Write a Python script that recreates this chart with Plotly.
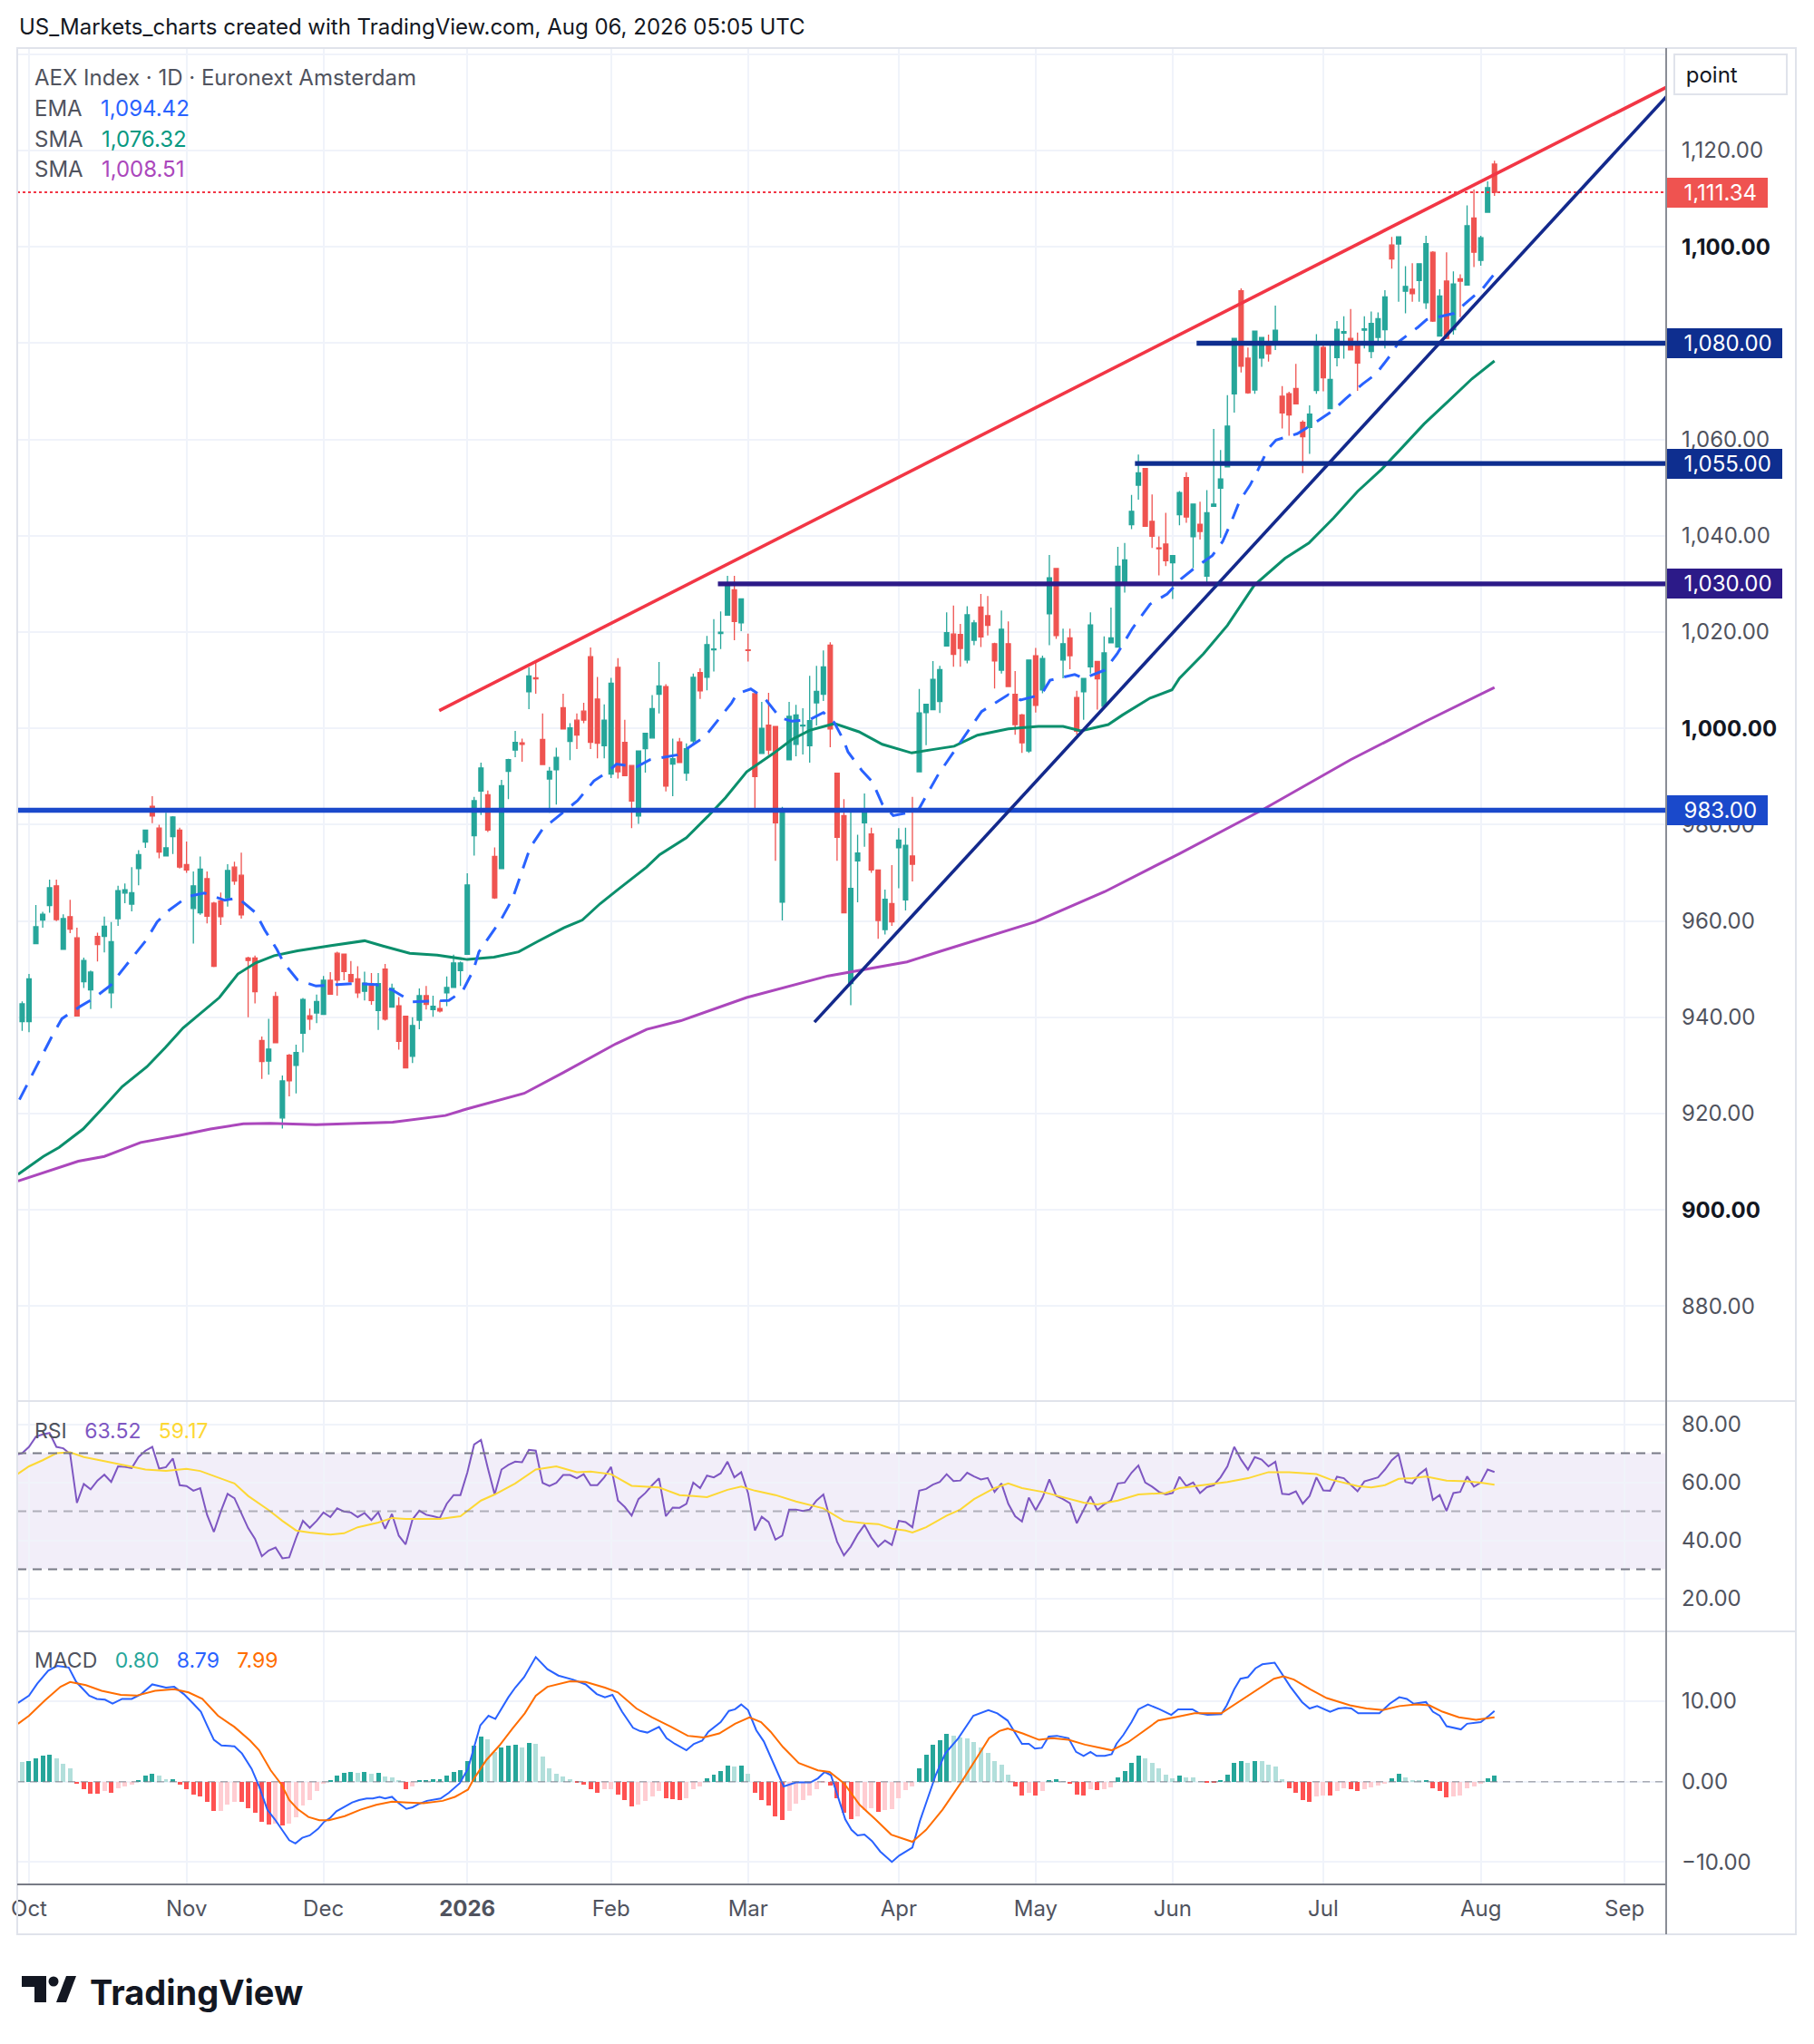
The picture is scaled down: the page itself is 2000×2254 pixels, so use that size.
import numpy as np
import pandas as pd
import plotly.graph_objects as go
from plotly.subplots import make_subplots

# Euronext calendar; session 0 = 1 Oct 2025
HOLIDAYS = ["2025-12-25", "2025-12-26", "2026-01-01", "2026-04-03", "2026-04-06", "2026-05-01"]
MONTH_LABELS = ["Oct", "Nov", "Dec", "<b>2026</b>", "Feb", "Mar", "Apr", "May", "Jun", "Jul", "Aug", "Sep"]
BAR_START = "2025-09-30"

# AEX daily candles, 30 Sep 2025 .. 5 Aug 2026 (one row per month)
OPEN = [
    939.1,
    939.1, 955.3, 960.2, 963.2, 967.3, 954.1, 960.9, 956.5, 947.4, 945.7, 956.8, 956.8, 945.1, 960.5, 965.8, 963.5, 970.9, 976.4, 983.8, 979.3, 973.5, 977.5, 978.9,
    971.7, 962.6, 961.7, 968.8, 963.7, 964.2, 964.8, 971.2, 969.5, 952.3, 952.3, 935.2, 930.9, 944.3, 919.1, 932.1, 930.0, 936.7, 940.3, 940.9,
    940.6, 947.7, 953.3, 953.1, 948.9, 948.0, 945.4, 947.0, 941.4, 950.0, 942.1, 942.4, 940.2, 931.9, 939.4, 944.5, 941.6, 941.8, 945.1, 946.2, 949.7,
    953.1, 977.7, 987.0, 986.2, 973.4, 970.9, 991.1, 995.5, 997.0, 1007.6, 1010.5, 997.7, 989.5, 991.4, 1004.3, 997.3, 1001.7, 1003.6, 1014.9, 1006.1, 996.4,
    990.5, 1012.7, 997.1, 992.3, 981.8, 995.8, 998.0, 1007.1, 1008.7, 992.6, 997.2, 990.7, 997.4, 1011.6, 1010.6, 1016.3, 1019.7, 1023.5, 1028.8, 1021.9,
    1016.3, 1007.2, 994.8, 1000.7, 1000.4, 963.9, 993.5, 996.7, 1000.5, 996.4, 1005.3, 1007.1, 1017.3, 990.7, 981.9, 947.0, 972.5, 980.4, 978.1, 970.6, 958.2, 963.6,
    975.2, 964.4, 973.5, 991.0, 1003.3, 1003.9, 1005.6, 1017.1, 1019.6, 1019.5, 1014.2, 1018.3, 1025.2, 1023.4, 1017.6, 1012.1, 1017.6, 1007.1, 1002.8, 995.3,
    1015.1, 1008.0, 1023.8, 1033.2, 1014.2, 1018.8, 1006.4, 1007.6, 1012.8, 1013.9, 1004.6, 1017.8, 1016.9, 1029.8, 1042.3, 1050.5, 1054.0, 1043.0, 1037.5, 1038.3,
    1034.4, 1044.4, 1052.1, 1039.8, 1042.4, 1031.6, 1046.1, 1049.9, 1054.3, 1069.5, 1090.9, 1076.9, 1070.3, 1076.9, 1079.4, 1080.1, 1069.0, 1069.5, 1070.6, 1063.6, 1062.5, 1070.2,
    1079.1, 1066.4, 1077.0, 1082.1, 1081.0, 1080.3, 1082.7, 1078.3, 1081.2, 1082.8, 1100.4, 1100.6, 1090.8, 1091.2, 1093.0, 1088.4, 1098.9, 1081.5, 1092.9, 1082.8, 1093.4, 1092.1, 1106.0,
    1097.2, 1107.2, 1117.2,
]
HIGH = [
    943.3,
    949.0, 963.3, 961.9, 968.6, 968.6, 961.4, 964.4, 958.6, 952.4, 949.7, 957.6, 960.9, 959.8, 967.3, 967.8, 971.2, 974.7, 978.9, 985.9, 980.0, 982.5, 981.8, 979.4,
    976.5, 970.3, 973.4, 970.3, 964.0, 965.9, 971.8, 972.3, 974.2, 952.6, 952.8, 936.0, 939.7, 945.3, 927.9, 932.4, 934.3, 944.0, 941.8, 944.7,
    948.6, 949.4, 953.6, 953.1, 951.7, 950.6, 949.5, 949.2, 949.2, 951.1, 947.0, 944.2, 940.2, 940.0, 946.0, 946.5, 944.5, 943.5, 948.5, 953.0, 951.6,
    969.9, 985.8, 992.9, 987.1, 975.3, 989.3, 993.7, 999.5, 997.9, 1012.7, 1013.8, 1003.1, 992.0, 996.0, 1007.2, 1001.1, 1003.1, 1005.3, 1016.8, 1010.7, 1005.0,
    1010.5, 1014.6, 1001.8, 992.3, 995.3, 999.0, 1006.9, 1013.8, 1009.2, 997.9, 998.0, 996.9, 1011.4, 1012.5, 1019.2, 1022.7, 1024.3, 1031.7, 1031.7, 1026.9,
    1019.7, 1007.2, 1005.5, 1007.4, 1000.4, 983.7, 1005.5, 1004.9, 1004.2, 1010.9, 1013.0, 1016.2, 1017.9, 990.7, 985.3, 982.7, 977.9, 986.5, 979.4, 970.6, 966.5, 971.6,
    979.3, 979.4, 985.8, 1008.2, 1005.0, 1014.0, 1013.0, 1024.1, 1025.5, 1021.7, 1025.4, 1022.5, 1027.9, 1027.5, 1017.8, 1024.5, 1022.2, 1011.9, 1003.0, 1014.3,
    1016.7, 1015.1, 1036.0, 1033.2, 1020.7, 1020.7, 1007.8, 1010.4, 1024.1, 1013.9, 1019.1, 1025.1, 1037.7, 1038.5, 1048.5, 1056.9, 1054.0, 1048.6, 1039.9, 1044.8,
    1035.9, 1049.3, 1053.2, 1046.6, 1047.1, 1049.5, 1062.2, 1057.8, 1069.2, 1081.0, 1091.4, 1079.1, 1082.5, 1081.2, 1081.8, 1087.8, 1071.1, 1069.9, 1075.7, 1064.0, 1067.1, 1081.9,
    1080.1, 1080.3, 1084.6, 1085.6, 1087.1, 1082.2, 1085.6, 1086.6, 1086.4, 1091.0, 1102.1, 1102.1, 1096.0, 1096.6, 1096.6, 1102.3, 1099.1, 1091.2, 1098.9, 1094.9, 1094.3, 1108.6, 1111.9,
    1102.3, 1113.6, 1117.9,
]
LOW = [
    937.2,
    936.9, 955.3, 958.6, 961.7, 960.0, 954.1, 957.5, 940.2, 946.1, 941.7, 951.6, 953.5, 941.9, 959.0, 963.7, 962.0, 967.4, 975.2, 980.3, 973.0, 973.5, 973.9, 970.9,
    970.0, 955.3, 961.3, 959.5, 950.4, 959.2, 963.0, 967.5, 960.5, 940.0, 942.9, 927.2, 928.1, 934.7, 916.9, 923.6, 924.2, 932.7, 937.4, 938.8,
    940.6, 944.8, 944.5, 947.7, 947.3, 944.0, 943.5, 942.6, 937.4, 939.3, 942.1, 933.3, 929.5, 930.5, 937.5, 941.6, 940.1, 941.0, 942.3, 946.2, 946.5,
    953.1, 973.6, 982.0, 978.5, 964.6, 970.9, 985.3, 994.0, 993.1, 1004.0, 1007.2, 992.5, 982.5, 984.2, 999.9, 993.4, 995.7, 1001.1, 995.7, 993.8, 993.8,
    989.7, 989.6, 990.2, 979.3, 980.2, 990.8, 998.0, 1003.1, 986.9, 985.9, 992.9, 989.1, 996.7, 1006.1, 1007.9, 1011.8, 1016.5, 1023.5, 1018.3, 1020.2,
    1013.9, 983.3, 994.8, 994.5, 972.5, 960.1, 993.4, 994.2, 994.6, 992.9, 1000.6, 1005.7, 996.1, 972.5, 961.7, 942.5, 963.9, 975.4, 970.0, 956.3, 957.2, 959.0,
    966.8, 962.2, 968.2, 991.0, 996.5, 1003.9, 1003.2, 1017.1, 1012.8, 1012.8, 1013.5, 1017.3, 1016.9, 1019.3, 1008.3, 1011.4, 1008.7, 998.7, 994.9, 994.9,
    1003.3, 1007.3, 1017.3, 1018.6, 1010.4, 1012.3, 998.7, 1001.8, 1011.4, 1003.9, 1004.2, 1017.8, 1016.9, 1028.2, 1041.4, 1047.5, 1042.0, 1037.5, 1031.8, 1033.7,
    1026.9, 1042.2, 1042.7, 1033.3, 1039.2, 1029.7, 1046.1, 1039.6, 1054.3, 1065.6, 1073.9, 1069.5, 1069.5, 1075.1, 1076.2, 1078.6, 1062.3, 1060.8, 1067.4, 1053.0, 1057.0, 1069.5,
    1070.0, 1066.4, 1075.2, 1076.8, 1078.6, 1070.1, 1078.9, 1076.9, 1079.8, 1078.9, 1095.5, 1088.6, 1086.2, 1088.6, 1088.6, 1087.1, 1084.4, 1081.5, 1081.0, 1081.8, 1085.4, 1092.1, 1095.8,
    1096.1, 1107.2, 1110.6,
]
CLOSE = [
    942.8,
    948.0, 958.8, 961.4, 966.9, 960.3, 960.5, 958.3, 940.3, 951.8, 949.4, 955.1, 958.9, 955.7, 966.3, 966.5, 965.9, 973.8, 978.9, 981.8, 974.3, 975.2, 981.6, 971.2,
    970.6, 967.3, 970.8, 961.0, 950.6, 960.9, 970.5, 968.3, 961.3, 951.8, 945.3, 930.8, 933.4, 934.7, 926.8, 926.8, 932.7, 943.7, 939.6, 943.3,
    947.7, 944.8, 947.7, 949.5, 947.4, 945.1, 947.1, 943.5, 947.0, 939.6, 946.0, 935.0, 929.5, 938.3, 944.5, 942.7, 942.3, 941.3, 946.2, 951.3, 951.3,
    967.5, 985.0, 991.8, 978.9, 964.8, 988.1, 993.5, 997.1, 996.7, 1010.9, 1010.3, 992.5, 991.1, 994.0, 999.9, 1000.1, 998.6, 1001.7, 997.1, 996.9, 1001.7,
    1009.4, 991.0, 990.2, 984.9, 995.3, 999.0, 1004.1, 1008.8, 988.0, 993.7, 992.9, 995.8, 1010.6, 1007.8, 1017.4, 1016.5, 1020.0, 1030.0, 1022.2, 1026.9,
    1016.2, 990.0, 1000.0, 995.5, 980.4, 983.0, 1002.5, 1002.8, 1000.7, 1001.6, 1007.7, 1012.8, 999.9, 977.4, 961.7, 966.8, 974.1, 983.2, 970.6, 960.1, 964.5, 959.8,
    976.8, 975.7, 971.8, 1003.2, 1005.0, 1010.2, 1012.2, 1019.9, 1015.4, 1016.6, 1023.6, 1021.9, 1019.0, 1021.4, 1014.0, 1020.6, 1008.7, 1000.8, 997.0, 1014.2,
    1004.8, 1014.5, 1031.3, 1019.3, 1017.6, 1015.1, 999.4, 1010.4, 1021.5, 1010.3, 1015.7, 1018.8, 1033.7, 1035.0, 1045.1, 1053.1, 1042.0, 1039.9, 1037.3, 1034.8,
    1035.9, 1049.0, 1043.9, 1046.6, 1040.9, 1044.8, 1046.6, 1051.8, 1062.8, 1081.0, 1075.2, 1069.7, 1082.5, 1081.2, 1077.8, 1082.7, 1065.5, 1065.1, 1067.4, 1060.6, 1065.3, 1080.1,
    1072.8, 1072.5, 1082.9, 1082.4, 1078.6, 1075.9, 1083.0, 1084.1, 1085.1, 1089.6, 1097.5, 1102.1, 1091.8, 1090.3, 1096.5, 1100.7, 1084.6, 1089.8, 1081.0, 1092.3, 1092.9, 1104.4, 1098.9,
    1101.9, 1112.3, 1111.34,
]

# moving averages: (session, value)
EMA_PTS = [
    (-1.4, 922.9), (0.8, 929.0), (3.4, 936.2), (4.8, 939.7), (7.4, 942.2), (9.3, 943.8), (11.9, 946.6), (13.4, 949.4),
    (15.4, 952.9), (17.1, 956.0), (18.7, 959.8), (20.5, 962.3), (23.2, 965.1), (25.6, 965.8), (28.6, 964.3), (30.5, 964.8),
    (33.1, 961.7), (34.4, 958.2), (36.2, 954.1), (37.2, 951.3), (39.2, 947.8), (41.9, 946.5), (45.0, 946.8), (47.2, 947.0),
    (50.7, 946.8), (53.0, 945.7), (56.0, 943.2), (58.3, 943.3), (61.3, 943.5), (63.3, 945.4), (64.9, 949.8), (65.7, 953.6),
    (67.5, 957.2), (68.9, 960.2), (70.6, 964.6), (73.2, 975.3), (75.0, 979.1), (77.2, 981.6), (80.1, 985.0), (82.5, 989.1),
    (84.5, 991.0), (85.8, 992.6), (88.7, 992.0), (90.7, 993.5), (94.7, 994.5), (98.7, 998.3), (100.0, 1000.6), (102.6, 1005.3),
    (103.4, 1007.2), (105.4, 1008.2), (107.4, 1006.3), (109.7, 1002.2), (111.4, 1001.5), (114.0, 1001.8), (116.0, 1003.3),
    (117.6, 1001.2), (118.9, 997.7), (119.6, 995.1), (121.6, 991.3), (123.2, 988.8), (124.6, 984.3), (126.2, 981.9),
    (129.8, 982.9), (132.8, 990.5), (135.8, 996.7), (139.1, 1003.5), (143.0, 1007.0), (144.8, 1005.9), (147.8, 1007.0),
    (149.1, 1010.0), (152.7, 1011.2), (154.0, 1010.4), (157.1, 1012.1), (158.9, 1015.5), (161.1, 1020.7), (163.7, 1025.8),
    (166.2, 1027.9), (168.2, 1031.0), (170.2, 1033.3), (172.8, 1035.9), (174.3, 1038.8), (175.6, 1043.0), (176.8, 1047.3),
    (178.3, 1050.5), (179.5, 1053.8), (180.9, 1058.0), (182.1, 1059.9), (182.9, 1060.2), (185.2, 1061.2), (187.5, 1063.2),
    (190.5, 1066.1), (192.2, 1068.4), (194.8, 1071.6), (196.7, 1073.6), (198.8, 1077.5), (200.1, 1080.4), (202.8, 1083.3),
    (204.1, 1084.9), (205.4, 1085.3), (208.1, 1086.2), (209.7, 1088.2), (212.3, 1091.4), (214, 1094.42),
]
SMA50_PTS = [
    (-1.6, 907.4), (2.1, 911.1), (4.4, 913.0), (7.9, 916.8), (11.0, 921.5), (13.6, 925.6), (17.2, 929.7), (19.9, 933.7),
    (22.5, 937.8), (25.2, 941.0), (27.8, 944.1), (30.5, 949.0), (33.1, 951.3), (35.8, 952.8), (39.2, 953.8), (44.1, 954.9),
    (49.0, 955.9), (51.7, 954.8), (55.6, 953.3), (59.6, 952.9), (64.0, 952.0), (67.9, 952.5), (71.5, 953.6), (74.2, 955.7),
    (78.1, 958.6), (80.8, 960.2), (83.4, 963.6), (85.8, 966.3), (90.2, 971.2), (92.1, 973.8), (96.0, 977.3), (99.1, 981.7),
    (101.7, 985.6), (104.8, 991.0), (108.7, 994.8), (111.4, 997.7), (114.0, 999.6), (117.6, 1001.0), (121.2, 999.3),
    (124.6, 996.7), (128.9, 994.9), (131.9, 995.6), (135.1, 996.3), (138.5, 998.6), (143.0, 999.9), (147.4, 1000.4),
    (151.0, 1000.4), (153.6, 999.5), (157.6, 1000.8), (159.7, 1002.8), (163.7, 1006.3), (166.9, 1008.0), (168.0, 1010.4),
    (171.5, 1015.5), (175.0, 1021.4), (178.9, 1029.7), (183.4, 1035.3), (186.9, 1038.5), (190.5, 1043.7), (194.0, 1049.2),
    (197.5, 1053.8), (200.1, 1057.7), (203.7, 1063.2), (207.3, 1068.0), (210.7, 1072.6), (214, 1076.32),
]
SMA200_PTS = [
    (-1.6, 906.0), (7.2, 910.1), (11.0, 911.1), (16.3, 914.0), (22.0, 915.5), (26.5, 916.8), (31.3, 917.9), (35.2, 918.0),
    (41.9, 917.7), (53.1, 918.2), (60.8, 919.6), (64.0, 921.0), (72.3, 924.2), (78.0, 928.5), (85.7, 934.5), (90.2, 937.5),
    (95.2, 939.3), (104.8, 944.1), (116.7, 948.6), (128.2, 951.5), (133.3, 953.8), (146.9, 959.8), (157.1, 966.1),
    (168.0, 974.0), (180.0, 983.0), (193.0, 993.5), (204.0, 1001.5), (214, 1008.51),
]

# RSI(14), one value per session from 29 Sep 2025
RSI_START = "2025-09-29"
RSI = [
    69.5, 70.0,
    72.2, 75.7, 76.5, 77.0, 72.2, 71.7, 69.8, 52.9, 59.4, 57.6, 60.6, 62.6, 60.1, 65.5, 65.3, 64.9, 68.7, 70.9, 72.2, 64.7, 65.2, 68.2, 59.0,
    58.7, 57.1, 58.0, 48.8, 42.9, 49.9, 56.0, 54.5, 49.4, 44.2, 40.5, 34.5, 36.5, 37.5, 33.8, 34.1, 40.8, 46.7, 44.3, 46.7,
    49.6, 48.0, 51.0, 49.9, 49.6, 48.0, 49.4, 47.0, 49.7, 44.0, 49.1, 41.6, 38.6, 47.2, 50.2, 48.8, 48.3, 47.7, 52.6, 55.6, 55.6,
    63.3, 73.0, 74.6, 64.9, 55.8, 64.4, 66.0, 67.1, 66.9, 71.2, 70.9, 59.8, 58.7, 59.8, 62.5, 62.5, 61.4, 62.8, 59.0, 59.0, 61.7,
    65.3, 53.7, 51.5, 48.5, 54.2, 56.3, 59.0, 61.4, 48.3, 51.3, 51.2, 52.6, 59.9, 58.0, 62.3, 61.7, 63.1, 67.1, 61.7, 63.5,
    56.3, 43.4, 48.1, 46.3, 40.2, 41.6, 50.6, 50.6, 50.1, 50.6, 53.7, 55.8, 47.2, 39.5, 34.8, 37.8, 42.0, 45.3, 41.0, 37.8, 39.9, 38.4,
    46.7, 46.3, 44.5, 57.1, 57.7, 59.2, 60.1, 62.8, 60.4, 60.6, 63.3, 62.0, 61.0, 61.5, 56.7, 59.6, 52.6, 48.3, 46.5, 54.7,
    50.4, 54.7, 61.0, 55.3, 54.2, 52.8, 45.9, 50.6, 55.1, 50.4, 52.4, 53.7, 59.6, 59.9, 63.3, 65.8, 59.9, 58.5, 56.7, 55.8,
    56.3, 61.9, 58.7, 59.9, 56.3, 58.3, 59.0, 61.7, 65.5, 72.2, 67.8, 64.4, 68.7, 67.8, 65.5, 67.1, 56.0, 55.8, 56.9, 52.6, 55.3, 61.7,
    57.2, 57.1, 61.9, 61.4, 59.0, 56.9, 60.3, 60.9, 61.7, 64.4, 67.6, 69.6, 60.1, 59.6, 62.8, 64.6, 53.9, 55.6, 50.1, 56.3, 56.7, 62.0, 58.5,
    59.9, 64.4, 63.52,
]
RSI_MA_PTS = [
    (-2, 62.3), (0, 65.5), (2, 67.6), (4, 70.0), (6, 70.3), (8, 68.7), (11, 67.3), (15, 65.5), (17, 64.4), (20, 63.9),
    (23, 64.6), (25, 63.9), (28, 61.2), (30, 59.6), (32, 55.3), (35, 50.4), (37, 46.7), (39, 43.4), (41, 42.7), (44, 42.0),
    (46, 42.4), (48, 44.5), (51, 46.1), (53, 47.7), (55, 47.4), (58, 47.4), (60, 47.4), (63, 48.3), (66, 53.7), (68, 55.8),
    (71, 59.6), (74, 64.4), (77, 65.5), (80, 63.5), (82, 63.7), (85, 62.8), (88, 58.8), (92, 58.2), (95, 55.6), (99, 54.9),
    (102, 57.4), (104, 58.5), (106, 57.1), (109, 55.6), (112, 53.4), (116, 51.0), (119, 46.7), (122, 45.9), (124, 45.6),
    (126, 44.0), (128, 43.4), (129, 42.7), (131, 44.5), (134, 48.5), (136, 50.6), (138, 54.2), (141, 58.0), (143, 59.6),
    (145, 58.0), (148, 56.7), (151, 54.9), (154, 53.0), (156, 52.4), (159, 53.7), (162, 55.8), (166, 56.3), (168, 58.0),
    (172, 59.2), (175, 60.1), (178, 61.4), (181, 63.5), (184, 63.5), (187, 63.1), (188, 62.8), (190, 61.0), (192, 59.9),
    (194, 58.7), (196, 58.2), (198, 59.0), (200, 61.2), (202, 61.4), (204, 62.0), (207, 60.6), (210, 60.3), (212, 59.9), (214, 59.17),
]

# MACD(12,26,9)
MACD_PTS = [
    (-1.6, 9.8), (0, 10.7), (1.2, 12.2), (2.8, 13.8), (4.1, 14.4), (5.8, 14.2), (6.9, 12.4), (8.8, 10.7), (9.9, 10.3),
    (11.1, 10.2), (12.2, 9.7), (13.6, 10.3), (15.0, 10.3), (16.4, 10.9), (18.0, 12.1), (20.0, 11.7), (21.2, 11.8),
    (22.6, 10.9), (24.0, 9.7), (25.1, 8.7), (26.0, 7.0), (27.0, 5.2), (28.1, 4.5), (30.0, 4.4), (31.1, 3.5), (32.5, 1.6),
    (33.6, -0.6), (34.8, -3.5), (35.9, -4.7), (37.1, -6.2), (38.0, -7.3), (38.9, -7.7), (39.9, -7.0), (41.0, -6.7),
    (42.2, -5.9), (43.1, -5.0), (44.0, -4.5), (44.9, -3.7), (46.1, -3.1), (47.2, -2.6), (48.2, -2.3), (49.3, -2.1),
    (50.2, -2.1), (51.2, -1.9), (52.0, -2.1), (53.0, -1.9), (54.0, -2.7), (55.1, -3.4), (56.0, -3.2), (56.9, -2.8),
    (58.1, -2.4), (60.1, -2.1), (61.3, -1.4), (62.9, -0.2), (64.1, 1.6), (65.0, 4.3), (65.9, 7.0), (67.1, 8.2), (68.1, 7.8),
    (70.0, 10.5), (71.0, 11.7), (72.3, 13.0), (74.0, 15.5), (75.7, 14.0), (77.3, 13.2), (79.4, 12.7), (81.3, 12.1),
    (82.9, 10.9), (84.1, 10.5), (85.2, 10.8), (86.6, 8.7), (88.2, 6.7), (89.2, 6.3), (90.3, 6.1), (92.0, 6.8), (93.1, 5.4),
    (94.3, 4.7), (96.0, 3.9), (97.1, 4.7), (98.3, 5.1), (99.2, 6.2), (101.0, 7.4), (102.2, 8.8), (103.1, 9.0), (104.0, 9.6),
    (105.0, 8.9), (106.2, 6.4), (107.3, 5.0), (108.5, 2.7), (109.4, 1.0), (110.2, -0.6), (112.0, -0.1), (114.1, -0.1),
    (115.2, 0.4), (116.2, 1.2), (117.1, 0.8), (118.1, -1.9), (119.2, -4.7), (120.1, -6.0), (121.0, -6.7), (122.0, -6.6),
    (123.1, -7.4), (124.3, -8.7), (126.0, -10.0), (127.1, -9.2), (129.0, -8.2), (130.1, -4.9), (131.3, -1.9), (132.4, 0.8),
    (133.8, 3.5), (135.7, 5.4), (137.9, 8.2), (140.1, 8.9), (141.4, 8.5), (142.9, 7.6), (143.9, 6.2), (145.0, 4.7),
    (146.0, 4.7), (146.9, 4.1), (147.9, 4.2), (148.9, 5.6), (150.1, 5.7), (151.8, 5.4), (152.9, 3.7), (154.0, 3.2),
    (155.0, 3.7), (155.9, 3.2), (157.1, 3.2), (158.1, 3.4), (158.8, 4.7), (159.8, 5.8), (161.0, 7.4), (162.0, 9.0),
    (163.4, 9.6), (165.1, 9.0), (166.8, 8.3), (167.8, 9.0), (169.9, 9.0), (170.9, 8.5), (172.1, 8.3), (174.1, 8.4),
    (174.9, 9.5), (176.0, 11.5), (176.9, 12.8), (178.0, 13.0), (179.1, 14.1), (180.1, 14.6), (181.9, 14.8), (183.0, 13.4),
    (184.2, 11.8), (185.9, 9.9), (187.0, 9.1), (188.1, 9.4), (190.0, 8.7), (191.2, 9.1), (192.2, 9.2), (193.1, 9.1),
    (194.1, 8.5), (197.2, 8.5), (198.7, 9.7), (200.1, 10.5), (201.2, 10.3), (202.2, 9.7), (204.0, 9.9), (205.0, 8.7),
    (206.0, 8.2), (207.0, 6.9), (209.1, 6.5), (210.0, 7.2), (212.0, 7.4), (213.2, 8.2), (214, 8.79),
]
SIGNAL_PTS = [
    (-1.6, 7.2), (0, 8.2), (2.3, 10.1), (4.6, 11.8), (6.0, 12.4), (8.3, 12.0), (10.6, 11.3), (13.4, 10.8), (15.7, 10.7),
    (18.4, 11.3), (21.2, 11.5), (23.3, 11.1), (25.3, 10.3), (27.6, 8.2), (30.0, 6.8), (32.3, 5.1), (33.6, 3.9), (35.3, 1.4),
    (36.9, -0.4), (38.0, -2.3), (39.2, -3.4), (40.8, -4.4), (42.4, -4.8), (43.8, -4.8), (46.1, -4.3), (48.4, -3.5),
    (50.7, -2.9), (53.0, -2.5), (55.3, -2.6), (57.6, -2.7), (60.4, -2.4), (62.2, -1.9), (64.1, -1.0), (65.0, 0.4),
    (66.8, 2.7), (68.7, 4.5), (70.6, 6.6), (72.4, 8.5), (74.0, 10.7), (75.7, 11.8), (79.0, 12.5), (81.3, 12.4),
    (84.1, 11.7), (86.0, 11.1), (88.7, 9.1), (91.0, 8.0), (93.8, 6.8), (96.2, 5.7), (98.5, 5.5), (100.8, 6.0), (103.1, 7.2),
    (105.2, 8.0), (106.9, 7.4), (108.3, 6.2), (110.1, 4.3), (112.4, 2.3), (115.2, 1.4), (116.9, 1.2), (119.0, -0.2),
    (121.3, -2.9), (123.6, -4.7), (125.9, -6.6), (129.0, -7.5), (131.0, -6.0), (133.4, -3.5), (136.2, 0.0), (138.5, 3.1),
    (140.2, 5.4), (141.7, 6.3), (142.9, 6.6), (145.1, 6.0), (147.5, 5.2), (149.4, 5.4), (151.8, 5.2), (154.2, 4.6),
    (156.7, 4.1), (158.1, 3.9), (160.5, 4.9), (163.0, 6.4), (164.9, 7.6), (167.3, 8.0), (170.2, 8.5), (174.1, 8.5),
    (177.0, 10.1), (179.9, 11.8), (181.8, 12.8), (183.2, 13.1), (184.7, 12.7), (187.1, 11.5), (189.5, 10.4), (192.9, 9.5),
    (195.3, 9.1), (197.7, 8.9), (200.1, 9.4), (202.6, 9.6), (204.5, 9.5), (206.4, 8.7), (208.8, 8.0), (211.3, 7.7), (214, 7.99),
]
# histogram, one bar per session from 30 Sep 2025
HIST = [
    2.4,
    2.5, 2.9, 3.2, 3.4, 2.9, 2.2, 1.6, -0.3, -0.9, -1.5, -1.55, -1.2, -1.4, -0.8, -0.6, -0.4, 0.1, 0.7, 1.0, 0.7, 0.25, 0.3, -0.4,
    -1.0, -1.6, -1.8, -2.5, -3.7, -3.65, -2.9, -2.5, -2.55, -3.3, -3.9, -5.0, -5.4, -5.2, -5.5, -5.2, -4.5, -3.0, -2.3, -1.2,
    -0.3, 0.2, 0.8, 1.1, 1.2, 1.1, 1.15, 1.0, 1.05, 0.6, 0.5, 0.1, -0.9, -0.6, 0.1, 0.2, 0.3, 0.35, 0.7, 1.2, 1.4,
    2.5, 4.5, 5.6, 5.3, 3.7, 4.3, 4.5, 4.6, 4.3, 4.8, 4.7, 3.1, 1.7, 1.0, 0.6, 0.3, -0.2, -0.4, -0.9, -1.4, -0.95,
    -0.9, -1.6, -2.3, -3.1, -2.9, -2.4, -1.8, -1.2, -2.1, -2.15, -2.3, -2.1, -1.0, -0.6, 0.4, 0.9, 1.3, 2.0, 1.9, 1.95,
    1.0, -1.4, -2.3, -3.0, -4.3, -4.8, -3.7, -2.8, -2.3, -1.7, -1.0, -0.2, -0.5, -2.1, -3.9, -4.7, -4.3, -3.5, -3.3, -3.8, -3.5, -3.45,
    -2.1, -1.1, -0.6, 1.7, 3.4, 4.6, 5.2, 5.9, 5.7, 5.5, 5.4, 4.9, 4.3, 3.6, 2.5, 2.1, 0.9, -0.6, -1.7, -1.4,
    -1.7, -1.2, 0.2, 0.25, 0.05, -0.3, -1.6, -1.7, -0.9, -1.1, -1.0, -0.7, 0.5, 1.3, 2.3, 3.2, 2.9, 2.3, 1.7, 0.9,
    0.4, 0.8, 0.5, 0.5, 0.02, -0.1, -0.12, 0.1, 0.9, 2.3, 2.6, 2.3, 2.6, 2.5, 2.1, 1.9, 0.3, -0.8, -1.4, -2.3, -2.5, -1.8,
    -1.7, -1.75, -1.2, -0.8, -0.9, -1.2, -0.9, -0.7, -0.5, -0.3, 0.4, 1.0, 0.5, 0.1, 0.08, 0.2, -0.8, -1.2, -2.0, -1.8, -1.7, -0.8, -0.6,
    -0.3, 0.4, 0.8,
]

# drawings: trend lines (session, price) and horizontal levels (price, start session)
RESISTANCE_LINE = [(59.9, 1003.7), (240, 1133.8)]
SUPPORT_LINE = [(114.7, 939.0), (240, 1132.6)]
LEVELS = [(983, None, "#1A49CB"), (1030, 100.6, "#2C1A88"), (1055, 161.5, "#0E2E8F"), (1080, 170.5, "#0E2E8F")]
LAST_PRICE = 1111.34

# ---------------------------------------------------------------------------
days = pd.bdate_range("2025-09-29", "2026-09-30")
days = days[~days.isin(pd.to_datetime(HOLIDAYS))]
session = pd.Series(np.arange(len(days)) - 2, index=days)
month_first = session.groupby([days.year, days.month]).first().values[1:13]

bar_x = session[BAR_START] + np.arange(len(CLOSE))
rsi_x = session[RSI_START] + np.arange(len(RSI))
hist_x = session[BAR_START] + np.arange(len(HIST))

# pixel helpers for page furniture (plot area 19..1837 x 53..2078)
L, R, T, B = 19, 1837, 53, 2078
W, H = 2000, 2254


def px(x):
    return (x - L) / (R - L)


def py(y):
    return (B - y) / (B - T)


GRID = "#F0F3FA"
TXT = "#131722"
MUTED = "#50535E"
FONT = "Inter, Roboto, sans-serif"

fig = make_subplots(rows=3, cols=1, shared_xaxes=True, vertical_spacing=0)

fig.add_trace(go.Candlestick(
    x=bar_x, open=OPEN, high=HIGH, low=LOW, close=CLOSE,
    increasing=dict(line=dict(color="#26A69A", width=1.3), fillcolor="#26A69A"),
    decreasing=dict(line=dict(color="#EF5350", width=1.3), fillcolor="#EF5350"),
    whiskerwidth=0, showlegend=False), row=1, col=1)


def pts_line(pts, color, width, dash=None, row=1):
    xs, ys = zip(*pts)
    fig.add_trace(go.Scatter(x=xs, y=ys, mode="lines", showlegend=False, hoverinfo="skip",
                             line=dict(color=color, width=width, dash=dash)), row=row, col=1)


pts_line(SMA200_PTS, "#AB47BC", 3)
pts_line(SMA50_PTS, "#0B8F6C", 3)
pts_line(EMA_PTS, "#2962FF", 3, dash="18px,12px")

fig.add_trace(go.Scatter(x=rsi_x, y=RSI, mode="lines", showlegend=False, hoverinfo="skip",
                         line=dict(color="#7E57C2", width=2)), row=2, col=1)
pts_line(RSI_MA_PTS, "#FDD835", 2, row=2)

hist_colors = []
prev = None
for v in HIST:
    rising = prev is not None and v > prev
    if v >= 0:
        hist_colors.append("#26A69A" if rising else "#B2DFDB")
    else:
        hist_colors.append("#FFCDD2" if rising else "#FF5252")
    prev = v
fig.add_trace(go.Bar(x=hist_x, y=HIST, width=0.66, marker=dict(color=hist_colors, line=dict(width=0)),
                     showlegend=False, hoverinfo="skip"), row=3, col=1)
pts_line(MACD_PTS, "#2962FF", 2, row=3)
pts_line(SIGNAL_PTS, "#FF6D00", 2, row=3)

# axes
xr = [-1.72, 239.07]
for i in (1, 2, 3):
    fig.update_xaxes(range=xr, tickvals=month_first, ticktext=MONTH_LABELS, showgrid=True, gridcolor=GRID,
                     gridwidth=2, zeroline=False, showline=False, ticks="", rangeslider_visible=False,
                     showticklabels=(i == 3), tickfont=dict(size=24, color=MUTED, family=FONT),
                     ticklabelstandoff=10, row=i, col=1)

price_ticks = list(range(880, 1141, 20))
price_text = []
for v in price_ticks:
    if v in (1080, 1140):
        price_text.append("")
    elif v % 100 == 0:
        price_text.append('<b><span style="color:#131722">%s</span></b>' % f"{v:,.2f}")
    else:
        price_text.append(f"{v:,.2f}")

axis_common = dict(side="right", showgrid=True, gridcolor=GRID, gridwidth=2, zeroline=False, showline=False,
                   ticks="", tickfont=dict(size=24, color=MUTED, family=FONT), ticklabelstandoff=16)
fig.update_layout(
    yaxis=dict(domain=[py(1545), 1], range=[860.3, 1141.3], tickvals=price_ticks, ticktext=price_text, **axis_common),
    yaxis2=dict(domain=[py(1799), py(1545)], range=[8.6, 88.0], tickvals=[20, 40, 60, 80],
                ticktext=["20.00", "40.00", "60.00", "80.00"], **axis_common),
    yaxis3=dict(domain=[0, py(1799)], range=[-12.8, 18.7], tickvals=[-10, 0, 10],
                ticktext=["\u221210.00", "0.00", "10.00"], **axis_common),
)

shapes = []
# RSI band and levels
shapes.append(dict(type="rect", xref="x2 domain", yref="y2", x0=0, x1=1, y0=30, y1=70,
                   fillcolor="rgba(126,87,194,0.1)", line=dict(width=0), layer="below"))
for lvl, col in ((70, "#787B86"), (50, "rgba(120,123,134,0.55)"), (30, "#787B86")):
    shapes.append(dict(type="line", xref="x2 domain", yref="y2", x0=0, x1=1, y0=lvl, y1=lvl,
                       line=dict(color=col, width=2, dash="10px,7px")))
shapes.append(dict(type="line", xref="x3 domain", yref="y3", x0=0, x1=1, y0=0, y1=0,
                   line=dict(color="rgba(120,123,134,0.6)", width=1.5, dash="8px,6px")))

# horizontal levels, last price, trend lines
for price, start, col in LEVELS:
    if start is None:
        shapes.append(dict(type="line", xref="x domain", yref="y", x0=0, x1=1, y0=price, y1=price,
                           line=dict(color=col, width=5.3)))
    else:
        shapes.append(dict(type="line", xref="x", yref="y", x0=start, x1=245, y0=price, y1=price,
                           line=dict(color=col, width=5.3)))
shapes.append(dict(type="line", xref="x domain", yref="y", x0=0, x1=1, y0=LAST_PRICE, y1=LAST_PRICE,
                   line=dict(color="#F23645", width=2, dash="dot")))
for line, col in ((RESISTANCE_LINE, "#F23645"), (SUPPORT_LINE, "#13298C")):
    (x0, y0), (x1, y1) = line
    shapes.append(dict(type="line", xref="x", yref="y", x0=x0, y0=y0, x1=x1, y1=y1,
                       line=dict(color=col, width=3.6)))

# frame, separators, price-scale border
shapes.append(dict(type="rect", xref="paper", yref="paper", x0=px(19), x1=px(1980), y0=py(2133), y1=py(53),
                   line=dict(color="#E0E3EB", width=2)))
for ysep in (1545, 1799):
    shapes.append(dict(type="line", xref="paper", yref="paper", x0=px(19), x1=px(1980), y0=py(ysep), y1=py(ysep),
                       line=dict(color="#E0E3EB", width=2)))
shapes.append(dict(type="line", xref="paper", yref="paper", x0=px(19), x1=1, y0=0, y1=0,
                   line=dict(color="#787B86", width=2)))
shapes.append(dict(type="line", xref="paper", yref="paper", x0=1, x1=1, y0=py(2133), y1=py(53),
                   line=dict(color="#8A8D96", width=2)))

# TradingView mark
for x0, x1, y0, y1 in ((24, 51, 2179, 2191), (38, 51, 2179, 2208)):
    shapes.append(dict(type="rect", xref="paper", yref="paper", x0=px(x0), x1=px(x1), y0=py(y1), y1=py(y0),
                       fillcolor=TXT, line=dict(width=0)))
shapes.append(dict(type="circle", xref="paper", yref="paper", x0=px(53.5), x1=px(64.5), y0=py(2190.5), y1=py(2179.5),
                   fillcolor=TXT, line=dict(width=0)))
slash = [(62, 2208), (73, 2208), (84, 2179), (73, 2179)]
path = "M " + " L ".join(f"{px(a):.5f},{py(b):.5f}" for a, b in slash) + " Z"
shapes.append(dict(type="path", xref="paper", yref="paper", path=path, fillcolor=TXT, line=dict(width=0)))

NB = "\u00a0"
ann = []


def note(x, y, text, size=22, color=TXT, **kw):
    ann.append(dict(xref="paper", yref="paper", x=px(x), y=py(y), text=text, showarrow=False,
                    xanchor="left", yanchor="middle", font=dict(size=size, color=color, family=FONT), **kw))


note(19, 30, "US_Markets_charts created with TradingView.com, Aug 06, 2026 05:05 UTC", size=24)
note(36, 85, "AEX Index · 1D · Euronext Amsterdam", size=24, color=MUTED)
note(36, 119, f'EMA{NB*3}<span style="color:#2962FF">1,094.42</span>', size=24, color=MUTED)
note(36, 153, f'SMA{NB*3}<span style="color:#089981">1,076.32</span>', size=24, color=MUTED)
note(36, 187, f'SMA{NB*3}<span style="color:#AB47BC">1,008.51</span>', size=24, color=MUTED)
note(36, 1578, f'RSI{NB*3}<span style="color:#7E57C2">63.52</span>{NB*3}<span style="color:#FDD835">59.17</span>',
     size=23, color=MUTED)
note(36, 1831, f'MACD{NB*3}<span style="color:#26A69A">0.80</span>{NB*3}<span style="color:#2962FF">8.79</span>'
     f'{NB*3}<span style="color:#FF6D00">7.99</span>', size=23, color=MUTED)
note(97, 2197, "<b>TradingView</b>", size=38)
note(1845, 82, f"{NB}point", size=24, bgcolor="white", bordercolor="#E0E3EB", borderwidth=2,
     borderpad=5, width=112, height=32, align="left")

# price-scale labels
for price, col in ((LAST_PRICE, "#EF5350"), (1080, "#0E2E8F"), (1055, "#0E2E8F"), (1030, "#2C1A88"), (983, "#1A49CB")):
    ann.append(dict(xref="paper", yref="y", x=1, xshift=1, y=price, xanchor="left", yanchor="middle",
                    text=f"{NB*2}{price:,.2f}{NB}", showarrow=False, bgcolor=col, borderwidth=0, borderpad=5,
                    height=23, font=dict(size=24, color="white", family=FONT)))

fig.update_layout(
    width=W, height=H, margin=dict(l=L, r=W - R, t=T, b=H - B),
    paper_bgcolor="white", plot_bgcolor="white", font=dict(family=FONT, color=TXT),
    showlegend=False, shapes=shapes, annotations=ann, bargap=0, boxgap=0.3, boxgroupgap=0.1,
    hovermode=False,
)

fig.write_html("out.html", config={"displayModeBar": False},
               post_script="document.body.style.margin = '0';")
